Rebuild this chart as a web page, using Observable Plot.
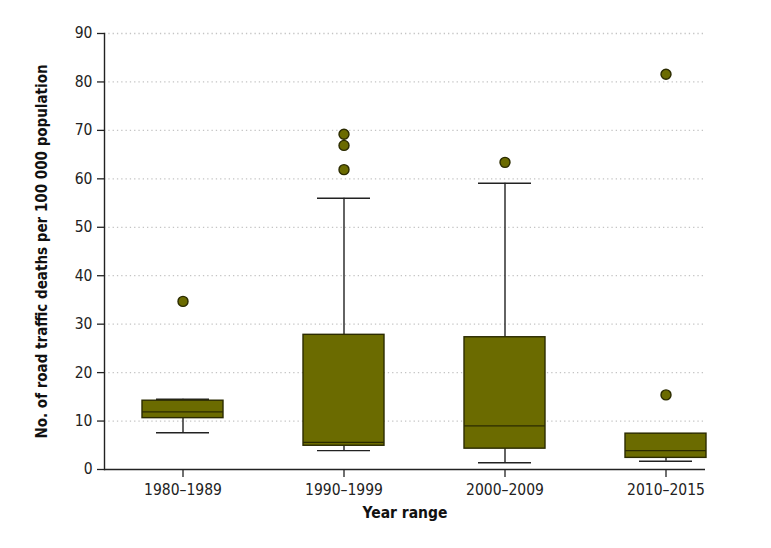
<!DOCTYPE html>
<html>
<head>
<meta charset="utf-8">
<script src="https://cdn.jsdelivr.net/npm/d3@7"></script>
<script src="https://cdn.jsdelivr.net/npm/@observablehq/plot@0.6"></script>
<style>
  html, body { margin: 0; padding: 0; background: #fff; }
  #chart svg { display: block; }
</style>
</head>
<body>
<div id="chart"></div>
<script>
const categories = ["1980–1989", "1990–1999", "2000–2009", "2010–2015"];
const whiskerLow  = [7.6, 3.9, 1.4, 1.7];
const q1          = [10.6, 4.9, 4.3, 2.4];
const median      = [11.9, 5.6, 9.0, 3.9];
const q3          = [14.2, 27.8, 27.3, 7.4];
const whiskerHigh = [14.5, 56.0, 59.1, 7.4];
const outlierGroup = ["1980–1989", "1990–1999", "1990–1999", "1990–1999", "2000–2009", "2010–2015", "2010–2015"];
const outlierValue = [34.7, 69.2, 66.9, 61.9, 63.4, 15.4, 81.6];
const yTicks = [0, 10, 20, 30, 40, 50, 60, 70, 80, 90];
const gridTicks = [10, 20, 30, 40, 50, 60, 70, 80, 90];

const boxes = categories.map((c, i) => ({
  cat: c, lo: whiskerLow[i], q1: q1[i], med: median[i], q3: q3[i], hi: whiskerHigh[i]
}));
const outliers = outlierGroup.map((c, i) => ({cat: c, v: outlierValue[i]}));

const fill = "#6b6b00";
const edge = "#2b2b00";
const font = "'Liberation Sans Narrow', 'DejaVu Sans Condensed', 'Roboto Condensed', sans-serif";

const chart = Plot.plot({
  width: 771,
  height: 548,
  marginLeft: 104,
  marginRight: 66,
  marginTop: 33,
  marginBottom: 79,
  style: {fontFamily: font, fontSize: "15px", color: "#222", background: "#fff"},
  x: {
    domain: categories,
    type: "band",
    paddingInner: 0.5,
    paddingOuter: 0.113,
    align: 1,
    label: null
  },
  y: {domain: [0, 90], label: null},
  marks: [
    Plot.ruleY(gridTicks, {stroke: "#c4c4c4", strokeWidth: 1.3, strokeDasharray: "1.3,3"}),
    Plot.axisY({ticks: yTicks, tickSize: 7, tickPadding: 5, stroke: "#222", strokeWidth: 1.3, fontSize: 15.5, label: null}),
    Plot.axisX({tickSize: 8, tickPadding: 6, stroke: "#222", strokeWidth: 1.3, fontSize: 15.5, label: null}),
    Plot.ruleX(boxes, {x: "cat", y1: "lo", y2: "q1", stroke: "#222", strokeWidth: 1.4}),
    Plot.ruleX(boxes, {x: "cat", y1: "q3", y2: "hi", stroke: "#222", strokeWidth: 1.4}),
    Plot.tickY(boxes, {x: "cat", y: "lo", stroke: "#222", strokeWidth: 1.4, insetLeft: 14, insetRight: 14}),
    Plot.tickY(boxes, {x: "cat", y: "hi", stroke: "#222", strokeWidth: 1.4, insetLeft: 14, insetRight: 14}),
    Plot.barY(boxes, {x: "cat", y1: "q1", y2: "q3", fill: fill, stroke: edge, strokeWidth: 1.4}),
    Plot.tickY(boxes, {x: "cat", y: "med", stroke: edge, strokeWidth: 1.4}),
    Plot.dot(outliers, {x: "cat", y: "v", r: 5, fill: fill, stroke: edge, strokeWidth: 1.4}),
    Plot.ruleY([0], {stroke: "#222", strokeWidth: 1.4}),
    Plot.frame({anchor: "left", stroke: "#222", strokeWidth: 1.4}),
    Plot.text(["Year range"], {frameAnchor: "bottom", dy: 48, fontSize: 15.5, fontWeight: "bold", fill: "#111"}),
    Plot.text(["No. of road traffic deaths per 100 000 population"], {frameAnchor: "left", textAnchor: "middle", dx: -62, rotate: -90, fontSize: 15, fontWeight: "bold", fill: "#111"})
  ]
});
document.getElementById("chart").appendChild(chart);
</script>
</body>
</html>
